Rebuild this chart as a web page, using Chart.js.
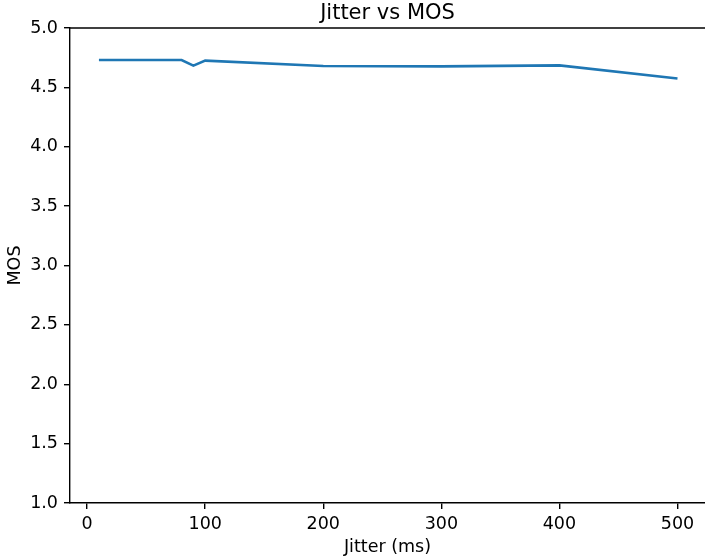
<!DOCTYPE html>
<html>
<head>
<meta charset="utf-8">
<script src="https://cdn.jsdelivr.net/npm/chart.js@4/dist/chart.umd.min.js"></script>
<style>
  html, body { margin: 0; padding: 0; background: #fff; }
  #wrap { width: 705px; height: 558px; }
</style>
</head>
<body>
<div id="wrap"><canvas id="chart" width="705" height="558"></canvas></div>
<script>
// jitter (ms) vs MOS
const jitterMs = [10, 20, 30, 40, 50, 60, 70, 80, 90, 100, 200, 300, 400, 500];
const mosValues = [4.73, 4.73, 4.73, 4.73, 4.73, 4.73, 4.73, 4.73, 4.683, 4.725, 4.68, 4.677, 4.685, 4.575];
const xTicks = [0, 100, 200, 300, 400, 500];
const yTicks = [1.0, 1.5, 2.0, 2.5, 3.0, 3.5, 4.0, 4.5, 5.0];

const FONT = "'DejaVu Sans', sans-serif";

// top spine like matplotlib's frame
const topSpine = {
  id: 'topSpine',
  afterDraw(chart) {
    const { ctx, chartArea } = chart;
    ctx.save();
    ctx.strokeStyle = '#000';
    ctx.lineWidth = 1.4;
    ctx.beginPath();
    ctx.moveTo(chartArea.left, chartArea.top);
    ctx.lineTo(chartArea.right, chartArea.top);
    ctx.stroke();
    ctx.restore();
  }
};

const ctx = document.getElementById('chart').getContext('2d');
new Chart(ctx, {
  type: 'line',
  data: {
    datasets: [{
      data: jitterMs.map((x, i) => ({ x: x, y: mosValues[i] })),
      borderColor: '#1f77b4',
      borderWidth: 2.6,
      pointRadius: 0,
      tension: 0,
      fill: false,
    }],
  },
  options: {
    responsive: false,
    animation: false,
    layout: { padding: 0 },
    plugins: {
      legend: { display: false },
      tooltip: { enabled: false },
      title: {
        display: true,
        text: 'Jitter vs MOS',
        fullSize: false,
        color: '#000',
        font: { family: FONT, size: 21, weight: 'normal' },
        padding: { top: 1, bottom: 1.8 },
      },
    },
    scales: {
      x: {
        type: 'linear',
        min: -14.5,
        max: 523.3,
        border: { display: true, color: '#000', width: 1.4 },
        grid: { display: true, drawOnChartArea: false, drawTicks: true, tickLength: 6, color: '#000', lineWidth: 1.4 },
        ticks: { color: '#000', font: { family: FONT, size: 17.5 }, padding: 5, maxRotation: 0 },
        afterBuildTicks: (scale) => { scale.ticks = xTicks.map(v => ({ value: v })); },
        afterFit: (scale) => { scale.height = 55; scale.paddingLeft = 0; scale.paddingRight = 0; },
        title: {
          display: true,
          text: 'Jitter (ms)',
          color: '#000',
          font: { family: FONT, size: 17.5 },
          padding: { top: 0, bottom: 0 },
        },
      },
      y: {
        type: 'linear',
        min: 1,
        max: 5,
        border: { display: true, color: '#000', width: 1.4 },
        grid: { display: true, drawOnChartArea: false, drawTicks: true, tickLength: 6, color: '#000', lineWidth: 1.4 },
        ticks: {
          color: '#000',
          font: { family: FONT, size: 17.5 },
          padding: 6,
          callback: (v) => Number(v).toFixed(1),
        },
        afterBuildTicks: (scale) => { scale.ticks = yTicks.map(v => ({ value: v })); },
        afterFit: (scale) => { scale.width = 70; },
        title: {
          display: true,
          text: 'MOS',
          color: '#000',
          font: { family: FONT, size: 17.5 },
          padding: { top: 4.5, bottom: 0 },
        },
      },
    },
  },
  plugins: [topSpine],
});
</script>
</body>
</html>
